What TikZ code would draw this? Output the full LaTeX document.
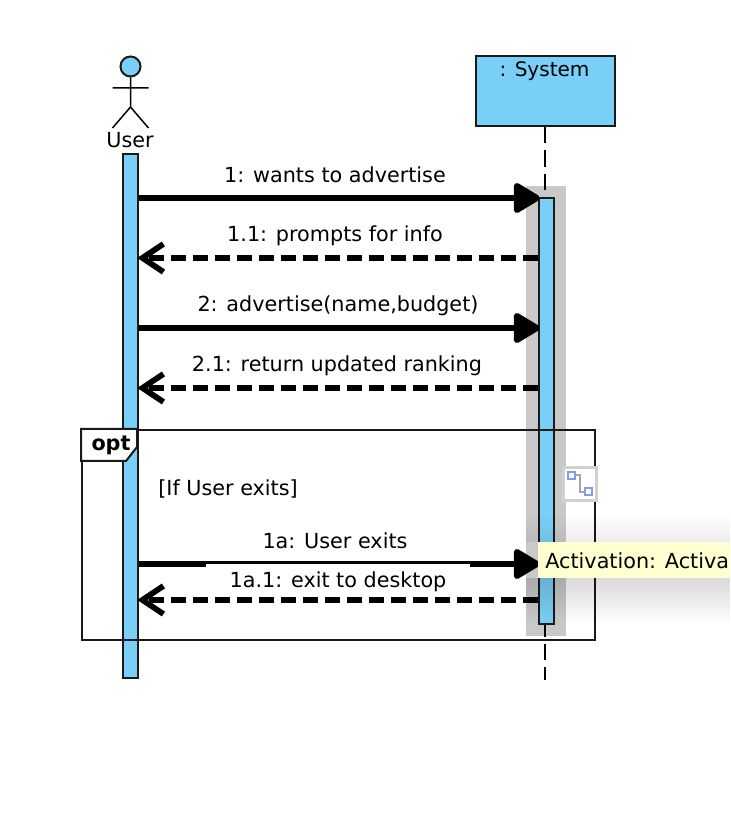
\documentclass[tikz,border=0pt]{standalone}
\usepackage{fontspec}
\setmainfont{DejaVu Sans}
\usetikzlibrary{arrows.meta,fadings}
\definecolor{UmlBlue}{HTML}{7ACFF6}
\definecolor{SelectGray}{HTML}{C9C9C9}
\definecolor{TipYellow}{HTML}{FFFFCF}
\definecolor{HandleBlue}{HTML}{7F9CF0}
\tikzset{
  umlbox/.style={draw=black!90, line width=0.04cm, fill=UmlBlue, inner sep=0pt},
  msglabel/.style={font=\fontsize{11.8}{13}\selectfont, inner sep=0pt},
  callmsg/.style={line width=0.12cm, shorten >=-0.04cm, -{Triangle[length=0.58cm,width=0.66cm,round]}},
  replymsg/.style={line width=0.115cm, dash pattern=on 0.3cm off 0.14cm, shorten >=-0.04cm,
    -{Straight Barb[length=0.42cm,width=0.56cm]}},
  gripbox/.style={draw=HandleBlue, line width=0.04cm, fill=white, minimum size=0.14cm, inner sep=0pt},
}
\begin{document}
\begin{tikzpicture}
  \useasboundingbox (0,0) rectangle (14.6,16.28);
  % Rows
  \coordinate (row1) at (0,12.32);
  \coordinate (row2) at (0,11.12);
  \coordinate (row3) at (0,9.72);
  \coordinate (row4) at (0,8.52);
  \coordinate (row5) at (0,5.0);
  \coordinate (row6) at (0,4.28);
  % Selection behind the activation
  \fill[SelectGray] (10.52,3.56) rectangle (11.32,12.56);
  % Lifeline
  \node[umlbox, minimum width=2.77cm, minimum height=1.4cm] (system) at (10.905,14.46) {};
  \node[msglabel, font=\fontsize{11.4}{13}\selectfont] (systemname) at (10.89,14.86) {: System};
  \coordinate (lifeend) at (10.89,2.68);
  \draw[line width=0.04cm, dash pattern=on 0.33cm off 0.14cm] (system.south -| lifeend) -- (lifeend);
  % Activations
  \node[umlbox, minimum width=0.31cm, minimum height=10.48cm] (userbar) at (2.61,7.96) {};
  \node[umlbox, minimum width=0.31cm, minimum height=8.52cm] (sysbar) at (10.93,8.06) {};
  % Frame
  \node[draw=black!90, line width=0.04cm, minimum width=10.26cm, minimum height=4.2cm, inner sep=0pt] (frame) at (6.77,5.58) {};
  \draw[draw=black!90, line width=0.04cm, fill=white] (frame.north west) -- ++(1.12,0) -- ++(0,-0.36) -- ++(-0.22,-0.28) -- ++(-0.9,0) -- cycle;
  \node[msglabel, font=\fontsize{11.8}{13}\selectfont\bfseries] (optname) at (2.22,7.38) {opt};
  \node[msglabel, anchor=west] (guard) at (3.16,6.5) {[If User exits]};
  % Actor
  \node[draw=black!90, line width=0.04cm, fill=UmlBlue, circle, minimum size=0.4cm, inner sep=0pt] (head) at (2.61,14.95) {};
  \coordinate (hip) at (2.61,14.14);
  \coordinate (handl) at (2.25,14.52);
  \coordinate (handr) at (2.97,14.52);
  \coordinate (footl) at (2.25,13.72);
  \coordinate (footr) at (2.97,13.72);
  \draw[line width=0.03cm] (head.south) -- (hip) (handl) -- (handr) (footl) -- (hip) -- (footr);
  \node[msglabel] (username) at (2.6,13.48) {User};
  % Messages
  \draw[callmsg] (userbar.east |- row1) -- (sysbar.west |- row1);
  \draw[replymsg] (sysbar.west |- row2) -- (userbar.east |- row2);
  \draw[callmsg] (userbar.east |- row3) -- (sysbar.west |- row3);
  \draw[replymsg] (sysbar.west |- row4) -- (userbar.east |- row4);
  \draw[callmsg] (userbar.east |- row5) -- (sysbar.west |- row5);
  % Message labels
  \node[msglabel] (msg1) at (6.7,12.78) {1: wants to advertise};
  \node[msglabel] (msg11) at (6.7,11.56) {1.1: prompts for info};
  \node[msglabel] (msg2) at (6.76,10.16) {2: advertise(name,budget)};
  \node[msglabel] (msg21) at (6.74,8.96) {2.1: return updated ranking};
  \node[msglabel] (msg1a) at (6.7,5.46) {1a: User exits};
  \node[msglabel, fill=white, minimum width=5.28cm, minimum height=0.7cm] (msg1a1) at (6.76,4.65) {1a.1: exit to desktop};
  % Last reply, over the label box
  \draw[replymsg] (sysbar.west |- row6) -- (userbar.east |- row6);
  % Resize handle
  \node[draw=black!18, line width=0.05cm, fill=white, minimum size=0.66cm, inner sep=0pt] (handle) at (11.6,6.6) {};
  \coordinate (grip1) at (11.43,6.77);
  \coordinate (grip2) at (11.76,6.44);
  \draw[black!35, line width=0.04cm] (grip1) -- (11.59,6.77) -- (11.59,6.44) -- (grip2);
  \node[gripbox] (gripa) at (grip1) {};
  \node[gripbox] (gripb) at (grip2) {};
  % Tooltip
  \fill[black, opacity=0.07, path fading=north] (10.52,5.44) rectangle (14.6,6.0);
  \fill[black, opacity=0.15, path fading=south] (10.52,3.8) rectangle (14.6,4.72);
  \node[fill=TipYellow, minimum width=3.84cm, minimum height=0.72cm, inner sep=0pt] (tipbox) at (12.68,5.08) {};
  \node[msglabel, anchor=west] (tooltip) at (10.9,5.07) {Activation: Activa};
\end{tikzpicture}
\end{document}
